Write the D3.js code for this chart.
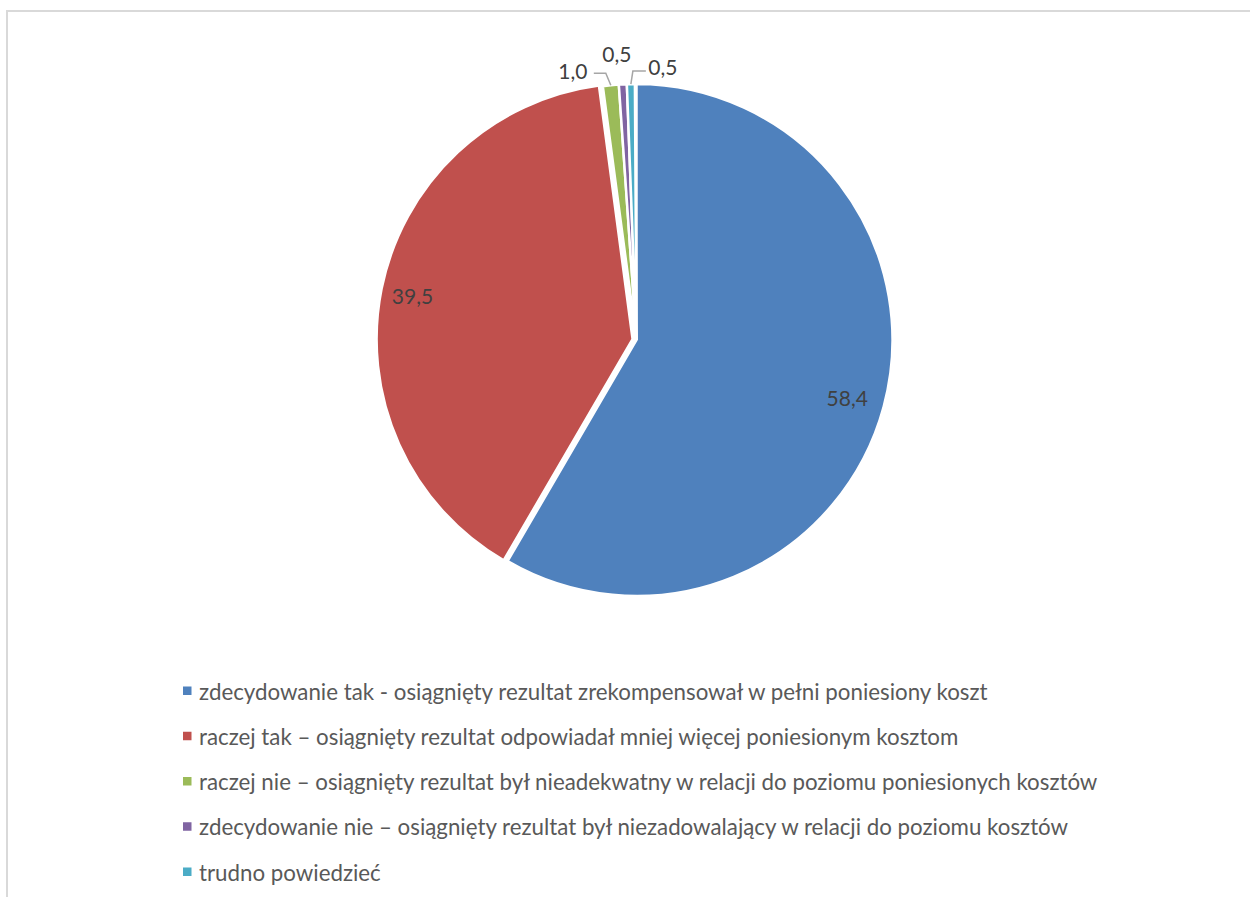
<!DOCTYPE html>
<html>
<head>
<meta charset="utf-8">
<script src="https://cdn.jsdelivr.net/npm/d3@7"></script>
<style>
  html, body { margin: 0; padding: 0; background: #fff; }
  svg { display: block; }
</style>
</head>
<body>
<svg id="chart" width="1250" height="897"></svg>
<script>
// ---- data ----
const categories = [
  "zdecydowanie tak - osiągnięty rezultat zrekompensował w pełni poniesiony koszt",
  "raczej tak – osiągnięty rezultat odpowiadał mniej więcej poniesionym kosztom",
  "raczej nie – osiągnięty rezultat był nieadekwatny w relacji do poziomu poniesionych kosztów",
  "zdecydowanie nie – osiągnięty rezultat był niezadowalający w relacji do poziomu kosztów",
  "trudno powiedzieć"
];
const values = [58.4, 39.5, 1.0, 0.5, 0.5];
const valueLabels = ["58,4", "39,5", "1,0", "0,5", "0,5"];
const colors = ["#4F81BD", "#C0504D", "#9BBB59", "#8064A2", "#4BACC6"];

// ---- layout ----
const svg = d3.select("#chart");
const W = 1250, H = 897;
const cx = 636.5, cy = 340, R = 256;

// frame
svg.append("path")
  .attr("d", `M7,${H + 5} L7,11 L${W + 5},11`)
  .attr("fill", "none")
  .attr("stroke", "#D9D9D9")
  .attr("stroke-width", 2);

const total = d3.sum(values);
const pie = d3.pie().sort(null).value(d => d)
  .startAngle(0).endAngle(2 * Math.PI * total / 100);
const arcs = pie(values);
const arc = d3.arc().innerRadius(0).outerRadius(R);
const labelArc = d3.arc().innerRadius(R * 0.865).outerRadius(R * 0.865);

const explode = [0, 4, 0, 0, 0];

const g = svg.append("g").attr("transform", `translate(${cx},${cy})`);

g.selectAll("path.slice")
  .data(arcs)
  .join("path")
  .attr("class", "slice")
  .attr("d", arc)
  .attr("fill", (d, i) => colors[i])
  .attr("stroke", "#fff")
  .attr("stroke-width", 2.5)
  .attr("stroke-linejoin", "miter")
  .attr("transform", (d, i) => {
    const a = (d.startAngle + d.endAngle) / 2;
    return `translate(${explode[i] * Math.sin(a)},${-explode[i] * Math.cos(a)})`;
  });

const labelFont = "Lato, 'Open Sans', sans-serif";

// inside labels for big slices
arcs.forEach((d, i) => {
  if (values[i] < 5) return;
  const a = (d.startAngle + d.endAngle) / 2;
  const [x, y] = labelArc.centroid(d);
  g.append("text")
    .attr("x", x + explode[i] * Math.sin(a) - 3)
    .attr("y", y - explode[i] * Math.cos(a))
    .attr("text-anchor", "middle")
    .attr("dominant-baseline", "central")
    .attr("font-family", labelFont)
    .attr("font-size", 21)
    .attr("fill", "#404040")
    .text(valueLabels[i]);
});

// outside labels for small slices (offsets from slice outer point)
const outside = {
  2: { lx: -38, ly: -15, leader: [[-5, -12], [-17, -12]] },
  3: { lx: -6, ly: -31, leader: null },
  4: { lx: 32, ly: -18, leader: [[2, -13], [15, -13]] }
};
arcs.forEach((d, i) => {
  const o = outside[i];
  if (!o) return;
  const a = (d.startAngle + d.endAngle) / 2;
  const px = R * Math.sin(a), py = -R * Math.cos(a);
  if (o.leader) {
    const pts = [[px, py]].concat(o.leader.map(p => [px + p[0], py + p[1]]));
    g.append("path")
      .attr("d", d3.line()(pts))
      .attr("fill", "none")
      .attr("stroke", "#A6A6A6")
      .attr("stroke-width", 1.5);
  }
  g.append("text")
    .attr("x", px + o.lx)
    .attr("y", py + o.ly)
    .attr("text-anchor", "middle")
    .attr("dominant-baseline", "central")
    .attr("font-family", labelFont)
    .attr("font-size", 21)
    .attr("fill", "#404040")
    .text(valueLabels[i]);
});

// legend
const legendY = d3.scalePoint().domain(d3.range(categories.length)).range([691, 872]);
const lg = svg.append("g");
categories.forEach((c, i) => {
  const y = legendY(i);
  lg.append("rect")
    .attr("x", 183).attr("y", y - 4.5)
    .attr("width", 8.5).attr("height", 8.5)
    .attr("fill", colors[i]);
  lg.append("text")
    .attr("x", 199).attr("y", y)
    .attr("dominant-baseline", "central")
    .attr("font-family", labelFont)
    .attr("font-size", 22.3)
    .attr("fill", "#595959")
    .text(c);
});
</script>
</body>
</html>
